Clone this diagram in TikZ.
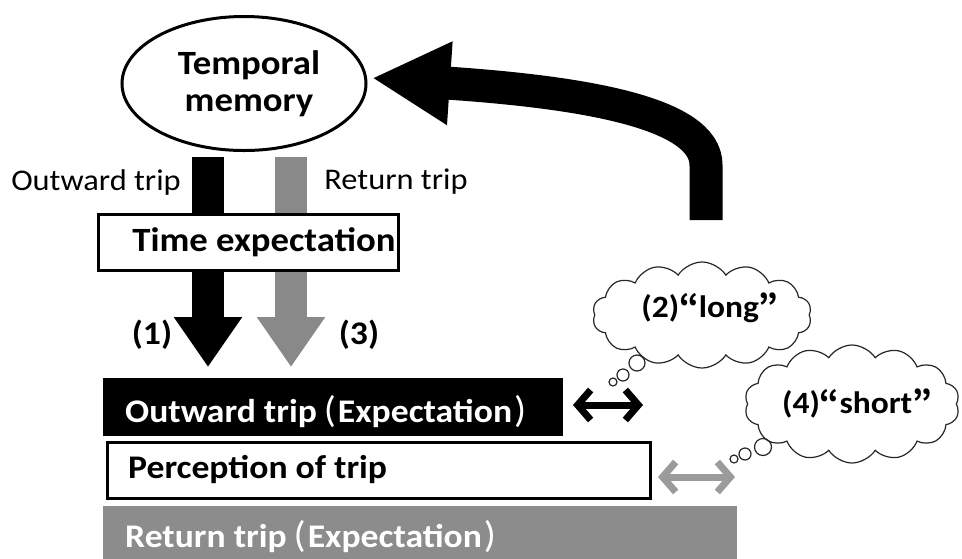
\documentclass[tikz,border=0pt]{standalone}
\usepackage{fontspec}
\setmainfont{Carlito}[FakeStretch=1.08]
\newfontfamily\cjk{Noto Sans CJK JP}
\usetikzlibrary{arrows.meta,shapes.geometric,shapes.symbols}
\definecolor{arrgray}{RGB}{137,137,137}
\definecolor{bargray}{RGB}{140,140,140}
\definecolor{dblgray}{RGB}{155,155,155}
\newcommand{\lpar}{\hspace{7pt}{\mdseries\fontsize{37}{40}\selectfont(}\hspace{2pt}}
\newcommand{\rpar}{\hspace{2pt}{\mdseries\fontsize{37}{40}\selectfont)}}
\begin{document}
\begin{tikzpicture}[x=1pt,y=-1pt,
  bigarrow/.style={line width=32pt,-{Triangle[width=65pt,length=50pt]}},
  dblarrow/.style={line width=7pt,{Straight Barb[length=13pt,width=30pt]}-{Straight Barb[length=13pt,width=30pt]}},
  lblreg/.style={inner sep=0pt,font=\fontsize{30}{36}\selectfont},
  lblbold/.style={inner sep=0pt,font=\bfseries\fontsize{33}{40}\selectfont},
  bartext/.style={anchor=base west,inner sep=0pt,font=\bfseries\fontsize{33}{40}\selectfont},
  cloudsty/.style={cloud,cloud puffs=14,cloud puff arc=115,draw=black!85,line width=1.2pt,inner sep=0pt},
  bubble/.style={circle,draw=black!85,line width=1.2pt,inner sep=0pt}]
\useasboundingbox (0,0) rectangle (962,558);
% temporal memory
\node[draw,line width=3pt,ellipse,minimum width=244pt,minimum height=134pt,inner sep=0pt] (mem) at (244,83.5) {};
\node[inner sep=0pt,align=center,font=\bfseries\fontsize{34}{37}\selectfont] (memt) at (249,84) {Temporal\\memory};
% down arrows
\coordinate (a1s) at (208,157); \coordinate (a1e) at (208,367);
\coordinate (a3s) at (291,157); \coordinate (a3e) at (291,367);
\draw[bigarrow] (a1s) -- (a1e);
\draw[bigarrow,arrgray] (a3s) -- (a3e);
% time expectation
\node[draw,line width=3pt,fill=white,minimum width=300pt,minimum height=56pt,inner sep=0pt] (texp) at (248.5,242.5) {};
\node[lblbold,font=\bfseries\fontsize{34}{40}\selectfont] (texpt) at (264,242) {Time expectation};
% labels
\node[lblreg] (lout) at (96,182) {Outward trip};
\node[lblreg] (lret) at (396,182) {Return trip};
\node[lblbold] (l1) at (152,335) {(1)};
\node[lblbold] (l3) at (359,335) {(3)};
% curved feedback arrow
\coordinate (cs) at (706,220); \coordinate (cm) at (706,165); \coordinate (ce) at (372,78);
\draw[line width=33pt,-{Triangle[width=78pt,length=78pt]}] (cs) -- (cm) .. controls (706,112) and (580,92) .. (ce);
% bars
\node[fill=black,minimum width=460pt,minimum height=58pt,inner sep=0pt,anchor=west] (outb) at (103,407) {};
\node[bartext,text=white] (outbt) at (125,422) {Outward trip\lpar Expectation\rpar};
\node[draw,line width=3pt,fill=white,minimum width=543pt,minimum height=56pt,inner sep=0pt,anchor=west] (perc) at (105.5,470) {};
\node[bartext] (perct) at (128,478) {Perception of trip};
\node[fill=bargray,minimum width=634pt,minimum height=56pt,inner sep=0pt,anchor=west] (retb) at (103,534) {};
\node[bartext,text=white] (retbt) at (125,547) {Return trip\lpar Expectation\rpar};
% double arrows
\coordinate (d1a) at (573,405); \coordinate (d1b) at (643,405);
\coordinate (d2a) at (658,477); \coordinate (d2b) at (735,477);
\draw[dblarrow] (d1a) -- (d1b);
\draw[dblarrow,dblgray] (d2a) -- (d2b);
% clouds
\node[cloudsty,minimum width=219pt,minimum height=106pt] (c1) at (702,315) {};
\node[lblbold,font=\bfseries\fontsize{31}{40}\selectfont] (c1t) at (710,308) {(2){\cjk “}long{\cjk ”}};
\node[bubble,minimum size=16pt] (b11) at (637,363) {};
\node[bubble,minimum size=12pt] (b12) at (623,375) {};
\node[bubble,minimum size=8pt] (b13) at (613,382) {};
\node[cloudsty,minimum width=215pt,minimum height=118pt] (c2) at (852,404) {};
\node[lblbold,font=\bfseries\fontsize{31}{40}\selectfont] (c2t) at (857,403) {(4){\cjk “}short{\cjk ”}};
\node[bubble,minimum size=17pt] (b21) at (763,447) {};
\node[bubble,minimum size=12pt] (b22) at (745,454) {};
\node[bubble,minimum size=8pt] (b23) at (734,459) {};
\end{tikzpicture}
\end{document}
